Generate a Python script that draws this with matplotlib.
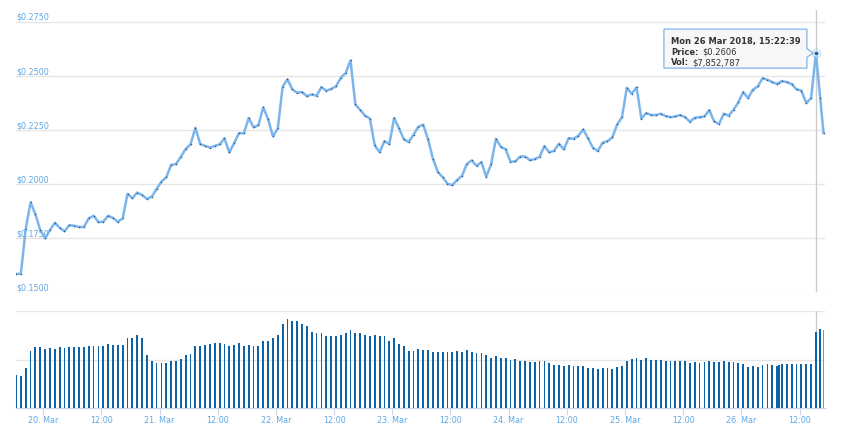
import pandas as pd
import matplotlib
matplotlib.use('Agg')
import matplotlib.pyplot as plt
import matplotlib.dates as mdates
from matplotlib.patches import Polygon
from matplotlib.transforms import IdentityTransform

# Price (USD), one sample per point
price = [
    0.1585, 0.1585, 0.1793, 0.1916, 0.1861, 0.1788, 0.1750, 0.1788, 0.1822, 0.1799,
    0.1782, 0.1810, 0.1808, 0.1802, 0.1802, 0.1842, 0.1854, 0.1825, 0.1826, 0.1854,
    0.1844, 0.1826, 0.1842, 0.1955, 0.1935, 0.1961, 0.1950, 0.1932, 0.1942, 0.1978,
    0.2012, 0.2032, 0.2089, 0.2093, 0.2127, 0.2163, 0.2184, 0.2261, 0.2186, 0.2177,
    0.2169, 0.2177,
    0.2184, 0.2212, 0.2147, 0.2190, 0.2236, 0.2235, 0.2306, 0.2263, 0.2273, 0.2355,
    0.2300, 0.2221, 0.2258, 0.2451, 0.2485, 0.2438, 0.2423, 0.2426, 0.2407, 0.2415,
    0.2409, 0.2449, 0.2432, 0.2441, 0.2452, 0.2492, 0.2514, 0.2572, 0.2369, 0.2343,
    0.2317, 0.2303, 0.2179, 0.2148, 0.2199, 0.2185, 0.2306, 0.2259, 0.2207, 0.2195,
    0.2229, 0.2266,
    0.2275, 0.2207, 0.2118, 0.2056, 0.2033, 0.2002, 0.1996, 0.2019, 0.2039, 0.2094,
    0.2110, 0.2085, 0.2102, 0.2034, 0.2093, 0.2210, 0.2173, 0.2161, 0.2104, 0.2105,
    0.2128, 0.2128, 0.2111, 0.2116, 0.2127, 0.2176, 0.2147, 0.2155, 0.2187, 0.2161,
    0.2213, 0.2210, 0.2224, 0.2253, 0.2212, 0.2168, 0.2153, 0.2192, 0.2199, 0.2216,
    0.2276, 0.2310, 0.2446,
    0.2418, 0.2448, 0.2303, 0.2329, 0.2320, 0.2320, 0.2326, 0.2315, 0.2310, 0.2313,
    0.2320, 0.2310, 0.2289, 0.2307, 0.2310, 0.2313, 0.2343, 0.2290, 0.2278, 0.2326,
    0.2317, 0.2344, 0.2378, 0.2426, 0.2398, 0.2437, 0.2452, 0.2490, 0.2483, 0.2472,
    0.2463, 0.2470, 0.2477, 0.2472, 0.2463, 0.2438, 0.2433, 0.2375, 0.2398, 0.2606,
    0.2400, 0.2236,
]

# 24h volume, millions of USD
volume_m = [
    3.44, 3.33, 4.17, 5.94, 6.35, 6.35, 6.15, 6.25, 6.15, 6.35,
    6.25, 6.35, 6.35, 6.35, 6.35, 6.46, 6.46, 6.46, 6.46, 6.67,
    6.56, 6.56, 6.56, 7.29, 7.29, 7.50, 7.19, 5.52, 4.90, 4.69,
    4.69, 4.69, 4.90, 4.90, 5.10, 5.52, 5.63, 6.46, 6.46, 6.56,
    6.67, 6.77, 6.77, 6.67, 6.46, 6.56, 6.77, 6.46, 6.56, 6.46,
    6.46, 6.88, 6.88, 7.19, 7.50, 8.65, 9.17, 8.96, 8.96,
    8.65, 8.44, 7.81, 7.71, 7.71, 7.40, 7.40, 7.40, 7.60, 7.71,
    8.02, 7.71, 7.71, 7.50, 7.40, 7.50, 7.40, 7.40, 6.88, 7.19,
    6.67, 6.46, 5.94, 5.94, 6.15, 6.04, 6.04, 5.83, 5.83, 5.83,
    5.83, 5.83, 5.94, 5.83, 6.04, 5.83, 5.73, 5.73, 5.52, 5.21,
    5.42, 5.21, 5.21, 5.00, 5.10, 4.90, 4.90, 4.79, 4.79, 4.90,
    4.90, 4.69, 4.48, 4.48, 4.38, 4.48, 4.38, 4.38, 4.38, 4.17,
    4.17, 4.06,
    4.17, 4.17, 4.06, 4.27, 4.38, 4.90, 5.10, 5.21, 5.00, 5.21,
    5.00, 5.00, 5.00, 4.90, 4.90, 4.90, 4.90, 4.90, 4.69, 4.79,
    4.69, 4.79, 4.90, 4.79, 4.79, 4.90, 4.79, 4.79, 4.69, 4.58,
    4.27, 4.38, 4.27, 4.48, 4.58, 4.48, 4.38, 4.48, 4.58, 4.58,
    4.58, 4.58, 4.58, 4.58, 4.58, 7.85, 8.19, 8.02,
]

# sample times: hourly, plus one extra sample and the two latest ones
times = list(pd.date_range('2018-03-19 18:22:39', periods=166, freq='h'))
times.insert(158, pd.Timestamp('2018-03-26 07:50:00'))
times += [pd.Timestamp('2018-03-26 16:15:00'), pd.Timestamp('2018-03-26 16:57:00')]
times = pd.to_datetime(times)

price_ticks = [0.15, 0.175, 0.2, 0.225, 0.25, 0.275]
price_tick_labels = ['$0.1500', '$0.1750', '$0.2000', '$0.2250', '$0.2500', '$0.2750']
vol_grid = [5e6, 10e6]
x_ticks = pd.date_range('2018-03-20 00:00', '2018-03-26 12:00', freq='12h')
x_tick_labels = ['20. Mar', '12:00', '21. Mar', '12:00', '22. Mar', '12:00',
                 '23. Mar', '12:00', '24. Mar', '12:00', '25. Mar', '12:00',
                 '26. Mar', '12:00']

hover_idx = 166
tip_title = 'Mon 26 Mar 2018, 15:22:39'
tip_rows = [('Price:', '$0.2606'), ('Vol:', '$7,852,787')]

line_color = '#7cb5ec'
bar_color = '#0f62a6'
label_color = '#5ea8e6'
grid_color = '#e6e6e6'

W, H = 842, 424
fig = plt.figure(figsize=(W / 100, H / 100), dpi=100)
ax = fig.add_axes([16 / W, (H - 292.3) / H, 809 / W, 282.3 / H])
axv = fig.add_axes([16 / W, 16 / H, 809 / W, 96.7 / H])

x0 = times[0]
x1 = pd.Timestamp('2018-03-26 17:15:00')

# price panel
ax.plot(times, price, color=line_color, lw=1.8, zorder=3, solid_joinstyle='round')
ax.plot(times, price, 'o', color='#2b5d8c', ms=1.1, mew=0, zorder=4)
ax.set_xlim(x0, x1)
ax.set_ylim(0.15, 0.15 + 282.3 / 54.06 * 0.025)
ax.set_yticks(price_ticks)
ax.grid(True, axis='y', color=grid_color, lw=1)
ax.set_axisbelow(True)
ax.tick_params(left=False, labelleft=False, bottom=False, labelbottom=False)
for s in ax.spines.values():
    s.set_visible(False)
for v, lab in zip(price_ticks, price_tick_labels):
    ax.text(0.0, v, lab, transform=ax.get_yaxis_transform(), ha='left', va='bottom',
            fontsize=5.8, color=label_color, zorder=1)

# crosshair + hovered point
tx = times[hover_idx]
ax.axvline(tx, color='#cccccc', lw=1, zorder=2)
ax.plot([tx], [price[hover_idx]], 'o', color=line_color, alpha=0.35, ms=7, mew=0, zorder=5)
ax.plot([tx], [price[hover_idx]], 'o', color='#1f63a3', ms=3.6, mec='white', mew=0.7, zorder=6)

# volume panel
vol = [v * 1e6 for v in volume_m]
bar_cols = [bar_color] * len(vol)
bar_cols[-1] = '#5b9fd8'
axv.bar(times, vol, width=0.0155, color=bar_cols, lw=0, antialiased=False, zorder=3)
axv.axvline(tx, color='#cccccc', lw=1, zorder=2)
axv.set_xlim(x0, x1)
axv.set_ylim(0, 10e6)
axv.set_yticks(vol_grid)
axv.grid(True, axis='y', color=grid_color, lw=1)
axv.set_axisbelow(True)
axv.tick_params(axis='y', left=False, labelleft=False)
for k in ['top', 'left', 'right']:
    axv.spines[k].set_visible(False)
axv.spines['bottom'].set_color('#ccd6eb')
axv.spines['bottom'].set_linewidth(1)
axv.set_xticks(x_ticks)
axv.set_xticklabels(x_tick_labels)
axv.tick_params(axis='x', length=5, width=0.8, color='#ccd6eb', pad=1,
                labelsize=5.8, labelcolor=label_color)

# tooltip callout (positioned relative to the hovered point)
px, py = ax.transData.transform((mdates.date2num(tx), price[hover_idx]))
left, right = px - 152, px - 9
top, bottom = py + 24, py - 15
verts = [(left, bottom), (left, top), (right, top), (right, py + 4.5),
         (px - 2.5, py), (right, py - 4), (right, bottom)]
fig.add_artist(Polygon(verts, closed=True, transform=IdentityTransform(),
                       facecolor=(0.97, 0.97, 0.97, 0.9), edgecolor=line_color,
                       lw=0.9, zorder=10))
tx0 = left + 7
fig.text(tx0, py + 11.3, tip_title, transform=IdentityTransform(), fontsize=6,
         fontweight='bold', color='#333333', va='center', ha='left', zorder=11)
renderer = fig.canvas.get_renderer()
for (key, val), yy in zip(tip_rows, [py + 1.0, py - 9.5]):
    t = fig.text(tx0, yy, key, transform=IdentityTransform(), fontsize=6,
                 fontweight='bold', color='#333333', va='center', ha='left', zorder=11)
    w = t.get_window_extent(renderer).width
    fig.text(tx0 + w + 3.5, yy, val, transform=IdentityTransform(), fontsize=6,
             color='#333333', va='center', ha='left', zorder=11)

fig.savefig('out.png', dpi=100)
